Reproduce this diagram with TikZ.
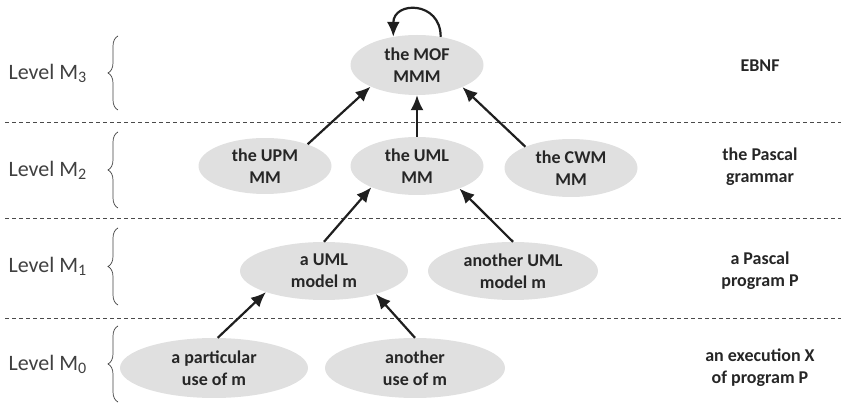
\documentclass[tikz,border=0pt]{standalone}
\usepackage{fontspec}
\setmainfont{Carlito}
\usetikzlibrary{arrows.meta,shapes.geometric,decorations.pathreplacing}

\definecolor{ellfill}{HTML}{E0E0E0}
\definecolor{txtdark}{HTML}{262626}
\definecolor{lvlgray}{HTML}{404040}
\definecolor{sepgray}{HTML}{4A4A4A}
\newcommand{\lvlname}[1]{Level M\raisebox{-3pt}{\fontsize{16}{16}\selectfont #1}}

\begin{document}
\begin{tikzpicture}[
    x=1pt, y=1pt,
    font=\fontsize{18}{22}\selectfont\bfseries,
    mnode/.style={ellipse, fill=ellfill, inner sep=0pt, align=center, text=txtdark, minimum width=133pt, minimum height=58pt},
    note/.style={align=center, text=txtdark},
    lvl/.style={anchor=west, text=lvlgray, font=\fontsize{22}{22}\selectfont},
    sep/.style={sepgray, dash pattern=on 4pt off 3pt, line width=0.8pt},
    brc/.style={decorate, decoration={brace, amplitude=10pt}, lvlgray, line width=0.7pt},
    line/.style={-{Latex[length=15pt,width=13pt]}, line width=2.2pt, black!88}
]
    \useasboundingbox (0,0) rectangle (841,-403);

    % level separators
    \draw[sep] (5,-122) -- (841,-122);
    \draw[sep] (5,-218) -- (841,-218);
    \draw[sep] (5,-318) -- (841,-318);

    % level names with braces
    \draw[brc] (118,-110) -- (118,-36);
    \draw[brc] (118,-208) -- (118,-132);
    \draw[brc] (118,-305) -- (118,-228);
    \draw[brc] (118,-402) -- (118,-326);
    \node[lvl] (lvlthree) at (5,-73) {\lvlname{3}};
    \node[lvl] (lvltwo) at (5,-170) {\lvlname{2}};
    \node[lvl] (lvlone) at (5,-266) {\lvlname{1}};
    \node[lvl] (lvlzero) at (5,-364) {\lvlname{0}};

    % models
    \node[mnode, minimum height=60pt] (mof) at (417,-65) {the MOF\\MMM};
    \node[mnode, minimum height=56pt] (upm) at (265,-166) {the UPM\\MM};
    \node[mnode] (umlmm) at (417,-166) {the UML\\MM};
    \node[mnode] (cwm) at (571,-168) {the CWM\\MM};
    \node[mnode, minimum width=168pt] (umlm) at (324,-271) {a UML\\model m};
    \node[mnode, minimum width=170pt] (otherm) at (513,-271) {another UML\\model m};
    \node[mnode, minimum width=188pt, minimum height=60pt] (usea) at (214,-368) {a particular\\use of m};
    \node[mnode, minimum width=180pt, minimum height=60pt] (useb) at (415,-368) {another\\use of m};

    % Pascal column
    \node[note] (ebnf) at (760,-66) {EBNF};
    \node[note] (grammar) at (760,-167) {the Pascal\\grammar};
    \node[note] (prog) at (760,-271) {a Pascal\\program P};
    \node[note] (exec) at (760,-368) {an execution X\\of program P};

    \draw[line] (upm.27) -- (mof.205);
    \draw[line] (umlmm.north) -- (mof.south);
    \draw[line] (cwm.155) -- (mof.334);
    \draw[line] (umlm.north) -- (umlmm.205);
    \draw[line] (otherm.north) -- (umlmm.332);
    \draw[line] (usea.83) -- (umlm.200);
    \draw[line] (useb.north) -- (umlm.336);
    \draw[line] (mof.50) .. controls +(0,36) and +(0,36) .. (mof.130);
\end{tikzpicture}
\end{document}
